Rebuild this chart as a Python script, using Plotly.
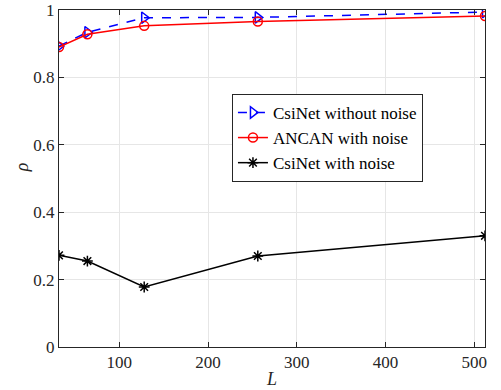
import plotly.graph_objects as go

L = [32, 64, 128, 256, 512]
csinet_clean = [0.893, 0.934, 0.977, 0.978, 0.994]
ancan_noise = [0.890, 0.928, 0.953, 0.966, 0.982]
csinet_noise = [0.272, 0.255, 0.178, 0.270, 0.330]

fig = go.Figure()
fig.add_trace(go.Scatter(x=L, y=csinet_clean, mode="lines+markers", name="CsiNet without noise",
                         line=dict(color="#0000ff", width=1.5, dash="dash"),
                         marker=dict(symbol="triangle-right-open", size=10, color="#0000ff", line=dict(width=1.5))))
fig.add_trace(go.Scatter(x=L, y=ancan_noise, mode="lines+markers", name="ANCAN with noise",
                         line=dict(color="#ff0000", width=1.5),
                         marker=dict(symbol="circle-open", size=9, color="#ff0000", line=dict(width=1.5))))
fig.add_trace(go.Scatter(x=L, y=csinet_noise, mode="lines+markers", name="CsiNet with noise",
                         line=dict(color="#000000", width=1.5),
                         marker=dict(symbol="asterisk-open", size=9, color="#000000", line=dict(width=1.5))))

font_family = "Times New Roman, Liberation Serif, DejaVu Serif, serif"
axis_common = dict(showline=True, linecolor="#262626", linewidth=1, mirror="ticks",
                   ticks="inside", ticklen=5, tickcolor="#262626", automargin=False,
                   showgrid=True, gridcolor="#e6e6e6", gridwidth=1, zeroline=False,
                   tickfont=dict(family=font_family, size=17, color="#262626"))
fig.update_xaxes(range=[32, 512], tickvals=[100, 200, 300, 400, 500],
                 title=dict(text="<i>L</i>", font=dict(family=font_family, size=18, color="#262626"), standoff=0),
                 **axis_common)
fig.update_yaxes(range=[0, 1], tickvals=[0, 0.2, 0.4, 0.6, 0.8, 1], ticktext=["0", "0.2", "0.4", "0.6", "0.8", "1"],
                 **axis_common)
fig.add_annotation(text="<i>ρ</i>", xref="paper", yref="paper", x=-0.088, y=0.532, showarrow=False,
                   textangle=-90, font=dict(family=font_family, size=18, color="#262626"),
                   xanchor="center", yanchor="middle")
fig.update_layout(width=501, height=390, margin=dict(l=59, r=16, t=10, b=43, autoexpand=False),
                  plot_bgcolor="white", paper_bgcolor="white",
                  font=dict(family=font_family, size=17, color="#000000"),
                  legend=dict(x=0.406, y=0.751, xanchor="left", yanchor="top",
                              bordercolor="#262626", borderwidth=1, bgcolor="white",
                              font=dict(family=font_family, size=17, color="#000000"),
                              tracegroupgap=0, itemwidth=30),
                  showlegend=True)
fig.write_html("out.html", config={"displayModeBar": False},
               post_script="document.body.style.margin='0';document.body.style.padding='0';")
